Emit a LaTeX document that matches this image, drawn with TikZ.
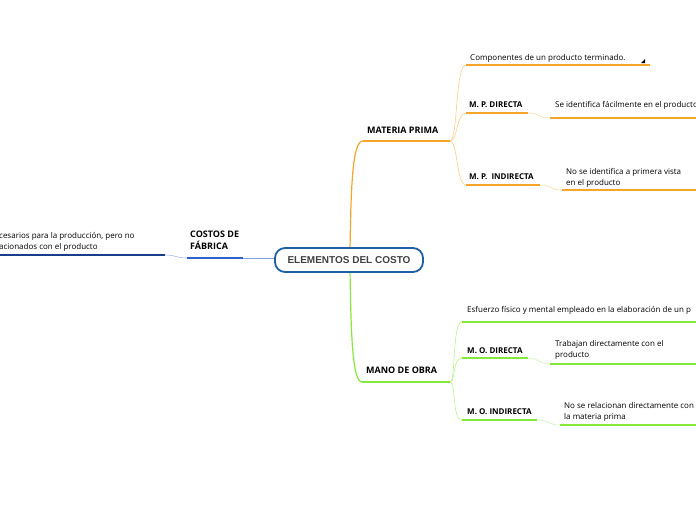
\documentclass[tikz,border=0pt]{standalone}
\usepackage{fontspec}
\setmainfont{Open Sans}
\newfontfamily\rootfont{Liberation Sans}
\usetikzlibrary{positioning}
\definecolor{mporange}{HTML}{F7A52A}
\definecolor{molime}{HTML}{86E83A}
\definecolor{cfblue}{HTML}{2F62C8}
\definecolor{rootblue}{HTML}{1F5FA8}
\definecolor{leafnavy}{HTML}{1A3C8E}

\begin{document}
\begin{tikzpicture}[x=1pt, y=-1pt,
    txt/.style={anchor=north west, inner sep=0pt, align=left,
                font=\fontsize{8}{11}\selectfont},
    head/.style={txt, font=\fontsize{9}{12}\selectfont\bfseries},
    subhead/.style={txt, font=\fontsize{8}{11}\selectfont\bfseries},
    rootbox/.style={draw=rootblue, line width=1.8pt, rounded corners=10pt,
                    fill=white, minimum width=148pt, minimum height=24pt,
                    inner sep=0pt, font=\rootfont\fontsize{10}{12}\selectfont\bfseries,
                    text=black!75},
    trunk/.style={line width=1.2pt},
    under/.style={line width=1.4pt},
    twig/.style={line width=0.6pt}
  ]
  \useasboundingbox (0,0) rectangle (696,520);

  % anchor points of the branch lines
  \coordinate (mp-a) at (363,141);  \coordinate (mp-b) at (450,141);
  \coordinate (mo-a) at (362,382);  \coordinate (mo-b) at (450,382);
  \coordinate (cf-a) at (187,258);  \coordinate (cf-b) at (243,258);
  \coordinate (cfl-a) at (0,255);   \coordinate (cfl-b) at (165,255);
  \coordinate (comp-a) at (466,65); \coordinate (comp-b) at (650,65);
  \coordinate (mpd-a) at (466,113); \coordinate (mpd-b) at (528,113);
  \coordinate (mpdl-a) at (550,118); \coordinate (mpdl-b) at (696,118);
  \coordinate (mpi-a) at (466,185); \coordinate (mpi-b) at (540,185);
  \coordinate (mpil-a) at (562,190); \coordinate (mpil-b) at (696,190);
  \coordinate (esf-a) at (462,322); \coordinate (esf-b) at (696,322);
  \coordinate (mod-a) at (462,358); \coordinate (mod-b) at (528,358);
  \coordinate (modl-a) at (550,364); \coordinate (modl-b) at (696,364);
  \coordinate (moi-a) at (462,420); \coordinate (moi-b) at (537,420);
  \coordinate (moil-a) at (560,425); \coordinate (moil-b) at (696,425);

  % costos de fabrica
  \draw[leafnavy, under] (cfl-a) -- (cfl-b);
  \draw[cfblue!45, twig] (cfl-b) .. controls (176,255) and (176,258) .. (cf-a);
  \draw[cfblue, under] (cf-a) -- (cf-b);
  \draw[cfblue!60, line width=1pt] (cf-b) -- (277,258);

  % materia prima
  \draw[mporange, trunk] (350,250) .. controls (351,190) and (352,141) .. (mp-a);
  \draw[mporange, under] (mp-a) -- (mp-b);
  \draw[mporange!55, twig] (mp-b) .. controls (458,141) and (455,65) .. (comp-a);
  \draw[mporange!55, twig] (mp-b) .. controls (458,141) and (456,113) .. (mpd-a);
  \draw[mporange!55, twig] (mp-b) .. controls (458,141) and (456,185) .. (mpi-a);
  \draw[mporange, under] (comp-a) -- (comp-b);
  \draw[mporange, under] (mpd-a) -- (mpd-b);
  \draw[mporange!40, twig] (mpd-b) .. controls (540,113) and (538,118) .. (mpdl-a);
  \draw[mporange, under] (mpdl-a) -- (mpdl-b);
  \draw[mporange, under] (mpi-a) -- (mpi-b);
  \draw[mporange!40, twig] (mpi-b) .. controls (552,185) and (550,190) .. (mpil-a);
  \draw[mporange, under] (mpil-a) -- (mpil-b);

  % mano de obra
  \draw[molime, trunk] (350,270) .. controls (351,330) and (352,382) .. (mo-a);
  \draw[molime, under] (mo-a) -- (mo-b);
  \draw[molime!55, twig] (mo-b) .. controls (456,382) and (452,322) .. (esf-a);
  \draw[molime!55, twig] (mo-b) .. controls (456,382) and (452,358) .. (mod-a);
  \draw[molime!55, twig] (mo-b) .. controls (456,382) and (452,420) .. (moi-a);
  \draw[molime, under] (esf-a) -- (esf-b);
  \draw[molime, under] (mod-a) -- (mod-b);
  \draw[molime!40, twig] (mod-b) .. controls (540,358) and (538,364) .. (modl-a);
  \draw[molime, under] (modl-a) -- (modl-b);
  \draw[molime, under] (moi-a) -- (moi-b);
  \draw[molime!40, twig] (moi-b) .. controls (550,420) and (548,425) .. (moil-a);
  \draw[molime, under] (moil-a) -- (moil-b);

  % root
  \node[rootbox] (root) at (349,260) {ELEMENTOS DEL COSTO};

  % labels
  \node[head] (cf) at (190,231) {COSTOS DE\\FÁBRICA};
  \node[txt] (cf-txt) at (-1,232.5) {cesarios para la producción, pero no\\acionados con el producto};
  \node[head] (mp) at (367,127) {MATERIA PRIMA};
  \node[txt] (comp) at (470,54.5) {Componentes de un producto terminado.};
  \fill (641,63) -- (645,59) -- (645,63) -- cycle;
  \node[subhead] (mpd) at (469,101.5) {M. P. DIRECTA};
  \node[txt] (mpd-txt) at (555,101.5) {Se identifica fácilmente en el producto};
  \node[subhead] (mpi) at (469,173.5) {M. P.\ \ INDIRECTA};
  \node[txt] (mpi-txt) at (566,168.5) {No se identifica a primera vista\\en el producto};
  \node[head] (mo) at (366,367) {MANO DE OBRA};
  \node[txt] (esf) at (467,306.5) {Esfuerzo físico y mental empleado en la elaboración de un p};
  \node[subhead] (mod) at (467,347.5) {M. O. DIRECTA};
  \node[txt] (mod-txt) at (555,340.5) {Trabajan directamente con el\\producto};
  \node[subhead] (moi) at (467,408.5) {M. O. INDIRECTA};
  \node[txt] (moi-txt) at (564,402.5) {No se relacionan directamente con\\la materia prima};
\end{tikzpicture}
\end{document}
